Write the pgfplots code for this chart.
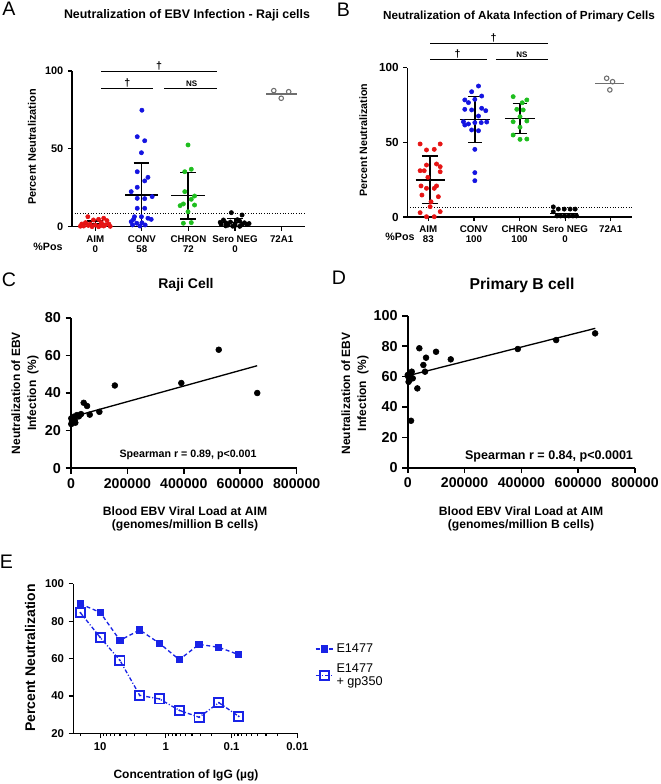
\documentclass[border=0pt]{standalone}
\usepackage{pgfplots}
\pgfplotsset{compat=1.18}
\usepackage{fontspec}
\setmainfont{Liberation Sans}
\definecolor{pred}{RGB}{230,20,20}
\definecolor{pblue}{RGB}{20,20,225}
\definecolor{pgreen}{RGB}{30,190,30}
\definecolor{pgray}{RGB}{110,110,110}
\definecolor{eblue}{RGB}{25,35,230}
\newcommand{\fs}[2][]{\fontsize{#2}{#2}\selectfont}
\pgfplotsset{
 base/.style={scale only axis, clip=false, axis x line*=bottom, axis y line*=left,
   tick align=outside, major tick length=3pt, tick style={black, line width=0.9pt},
   axis line style={line width=1pt},
   /pgf/number format/assume math mode=true,
   yticklabel style={font=\bfseries\fs{8.2}},
   xticklabel style={font=\bfseries\fontsize{7.3}{7.6}\selectfont, align=center}},
 scat/.style={only marks, mark=*, mark size=1.6pt},
 opn/.style={only marks, mark=o, mark size=1.7pt, pgray, mark options={line width=0.8pt, fill=white}},
 stat/.style={black, line width=1.1pt, no marks},
 sig/.style={black, line width=1.1pt, no marks},
 dots/.style={black, line width=0.6pt, dash pattern=on 0.8pt off 1.2pt, no marks},
 big/.style={scale only axis, clip=false, axis x line*=bottom, axis y line*=left,
   tick align=outside, major tick length=4pt, tick style={black, line width=1.2pt},
   axis line style={line width=1.5pt},
   /pgf/number format/assume math mode=true,
   yticklabel style={font=\bfseries\fs{10.8}},
   xticklabel style={font=\bfseries\fs{10.6}},
   xmin=0, xmax=800000, xtick={0,200000,400000,600000,800000},
   xticklabels={0,200000,400000,600000,800000}, scaled x ticks=false},
}
\begin{document}
\begin{tikzpicture}
\path[use as bounding box] (0,0) rectangle (495pt,-588pt);
% ---------------- Panel A ----------------
\begin{axis}[base, at={(54pt,-170pt)}, anchor=south west, width=174.75pt, height=116.75pt,
  xmin=-0.5, xmax=4.5, ymin=0, ymax=100, ytick={0,50,100}, xtick={0,1,2,3,4},
  xticklabels={{AIM\\0},{CONV\\58},{CHRON\\72},{Sero NEG\\0},{72A1}}]
\addplot[dots] coordinates {(-0.5,8.6) (4.5,8.6)};
\addplot[scat, pred] coordinates {(-0.16,6.4) (-0.04,4.3) (0.07,4.7) (0.18,5.4) (0.25,3.9) (-0.29,1.7) (-0.21,2.6) (-0.11,1.7) (0,1.1) (0.13,2.6) (0.21,1.1) (0.29,1.7) (-0.25,0.4) (-0.07,0) (0.07,0) (0.18,0.4) (-0.15,0.8) (0.1,0.5) (0.32,0.2) (-0.32,0.3)};
\addplot[scat, pblue] coordinates {(1.0,74.8) (0.90,57.8) (1.06,55.2) (0.99,47.5) (0.90,35.3) (1.13,31.7) (1.06,29.4) (0.90,25.3) (0.77,22.5) (0.90,18.2) (1.06,18.0) (1.22,19.3) (0.90,11.8) (1.06,11.8) (0.84,6.4) (0.99,6.4) (1.13,5.4) (0.82,4.7) (1.20,4.7) (0.77,3.2) (0.89,2.2) (1.0,2.5) (0.80,1.1) (0.96,0.4) (1.07,1.1)};
\addplot[scat, pgreen] coordinates {(1.99,52.5) (1.92,35.3) (2.06,36.9) (1.92,22.5) (2.13,19.7) (2.06,17.6) (1.89,14.6) (1.82,13.5) (2.13,13.9) (1.99,9.6) (1.89,2.2) (2.06,2.6)};
\addplot[scat, black] coordinates {(2.92,9.0) (3.15,7.5) (2.75,4.3) (2.8,2.5) (2.9,3) (3.0,2) (3.1,3.5) (3.2,2.5) (2.7,1.5) (2.85,1) (3.0,0.8) (3.15,1.2) (3.25,1.5) (2.95,0.3) (3.05,4.5) (2.8,0.5) (3.1,0.2) (3.3,2) (2.68,2.8)};
\addplot[opn] coordinates {(3.83,87.4) (3.99,82.5) (4.15,86.7)};
% mean / SD
\addplot[stat] coordinates {(-0.3,1.8) (0.3,1.8)};
\addplot[stat] coordinates {(0,0) (0,3.6)};
\addplot[stat] coordinates {(-0.17,3.6) (0.17,3.6)};
\addplot[stat] coordinates {(0.64,20.3) (1.34,20.3)};
\addplot[stat] coordinates {(0.99,0) (0.99,40.9)};
\addplot[stat] coordinates {(0.82,40.9) (1.16,40.9)};
\addplot[stat] coordinates {(1.63,19.9) (2.35,19.9)};
\addplot[stat] coordinates {(1.99,4.9) (1.99,34.7)};
\addplot[stat] coordinates {(1.82,34.7) (2.16,34.7)};
\addplot[stat] coordinates {(1.82,4.9) (2.16,4.9)};
\addplot[stat] coordinates {(2.65,2.8) (3.35,2.8)};
\addplot[stat] coordinates {(3,0) (3,5.4)};
\addplot[stat] coordinates {(2.83,5.4) (3.17,5.4)};
\addplot[stat, pgray, line width=0.9pt] coordinates {(3.67,85.2) (4.33,85.2)};
% significance
\addplot[sig] coordinates {(0.13,99.6) (2.61,99.6)};
\addplot[sig] coordinates {(0.13,88.9) (1.24,88.9)};
\addplot[sig] coordinates {(1.48,88.9) (2.61,88.9)};
\node[anchor=south, inner sep=0.8pt, font=\bfseries\fs{8}] at (axis cs:1.37,99.6) {†};
\node[anchor=south, inner sep=0.8pt, font=\bfseries\fs{8}] at (axis cs:0.69,88.9) {†};
\node[anchor=south, inner sep=1.2pt, font=\bfseries\fs{6}] at (axis cs:2.07,88.9) {NS};
\end{axis}
% ---------------- Panel B ----------------
\begin{axis}[base, at={(305.5pt,-162.75pt)}, anchor=south west, width=168.3pt, height=112pt,
  xmin=-0.46, xmax=4.46, ymin=0, ymax=100, ytick={0,50,100}, xtick={0,1,2,3,4},
  yticklabel style={font=\bfseries\fs{8.8}},
  xticklabels={{AIM\\83},{CONV\\100},{CHRON\\100},{Sero NEG\\0},{72A1}}]
\addplot[dots] coordinates {(-0.46,6.3) (4.46,6.3)};
\addplot[scat, pred] coordinates {(-0.18,48.9) (0.26,48.9) (-0.04,44.9) (0.13,45.3) (-0.18,31.0) (-0.09,31.0) (-0.04,34.8) (0.18,35.5) (0.26,33.7) (0.26,30.3) (-0.01,26.6) (-0.16,20.8) (0.18,20.8) (-0.04,19.2) (0.13,19.2) (-0.14,14.7) (0.22,13.6) (0.06,10.2) (-0.18,2.9) (0.26,3.6) (-0.04,0.2) (0.13,0.2) (0.04,6.9)};
\addplot[scat, pblue] coordinates {(1.10,87.7) (0.95,83.9) (0.80,78.4) (1.17,81.0) (0.88,76.6) (1.02,78.8) (0.80,72.1) (0.95,71.7) (1.17,72.8) (1.26,71.2) (1.10,67.6) (0.77,63.8) (0.88,62.3) (1.02,63.2) (1.16,63.2) (1.28,63.6) (0.80,61.6) (0.95,58.3) (1.10,57.8) (1.02,45.3) (1.02,29.7) (1.02,24.3)};
\addplot[scat, pgreen] coordinates {(1.86,80.6) (2.16,78.4) (2.06,76.5) (1.94,72.1) (2.08,71.7) (2.01,67.2) (1.86,63.8) (2.16,64.3) (2.01,60.1) (1.86,54.9) (2.01,52.0) (2.16,52.2)};
\addplot[scat, black] coordinates {(2.74,6.8) (2.85,5.3) (2.98,5.3) (3.11,5.3) (3.22,5.3) (2.74,3.5) (2.82,0.7) (2.90,0.7) (2.99,0.7) (3.08,0.7) (3.17,0.7) (3.25,0.7)};
\addplot[opn] coordinates {(3.91,92.9) (4.04,90.6) (3.98,85.1)};
\addplot[stat] coordinates {(-0.28,24.8) (0.36,24.8)};
\addplot[stat] coordinates {(0.04,8.9) (0.04,40.8)};
\addplot[stat] coordinates {(-0.14,40.8) (0.22,40.8)};
\addplot[stat] coordinates {(-0.14,8.9) (0.22,8.9)};
\addplot[stat] coordinates {(0.69,65.4) (1.35,65.4)};
\addplot[stat] coordinates {(1.02,49.8) (1.02,80.6)};
\addplot[stat] coordinates {(0.87,80.6) (1.17,80.6)};
\addplot[stat] coordinates {(0.87,49.8) (1.17,49.8)};
\addplot[stat] coordinates {(1.68,66.1) (2.34,66.1)};
\addplot[stat] coordinates {(2.01,56.0) (2.01,76.1)};
\addplot[stat] coordinates {(1.85,76.1) (2.17,76.1)};
\addplot[stat] coordinates {(1.85,56.0) (2.17,56.0)};
\addplot[stat] coordinates {(2.67,2.5) (3.29,2.5)};
\addplot[stat, pgray, line width=0.9pt] coordinates {(3.66,89.5) (4.30,89.5)};
\addplot[sig] coordinates {(0.04,116.3) (2.63,116.3)};
\addplot[sig] coordinates {(0.04,105.6) (1.28,105.6)};
\addplot[sig] coordinates {(1.48,105.6) (2.63,105.6)};
\node[anchor=south, inner sep=0.8pt, font=\bfseries\fs{8}] at (axis cs:1.43,116.3) {†};
\node[anchor=south, inner sep=0.8pt, font=\bfseries\fs{8}] at (axis cs:0.64,105.6) {†};
\node[anchor=south, inner sep=1.2pt, font=\bfseries\fs{6}] at (axis cs:2.05,105.6) {NS};
\end{axis}
% ---------------- Panel C ----------------
\begin{axis}[big, at={(53.25pt,-351.2pt)}, anchor=south west, width=169.25pt, height=112.9pt,
  ymin=0, ymax=80, ytick={0,20,40,60,80}]
\addplot[only marks, mark=*, mark size=2.2pt, black] coordinates {(1000,26.5) (3600,24.7) (1000,23.5) (9600,27.4) (13100,25.6) (15300,24.2) (5000,25.0) (8000,26.2) (21300,28.3) (28000,27.6) (35500,28.8) (45000,34.8) (56900,33.1) (66500,28.5) (100600,30.0) (155400,44.0) (391100,45.3) (523800,63.0) (660300,40.0)};
\addplot[black, line width=1pt, no marks] coordinates {(0,27.1) (660000,54.5)};
\end{axis}
% ---------------- Panel D ----------------
\begin{axis}[big, at={(305.8pt,-350.8pt)}, anchor=south west, width=170.5pt, height=114pt,
  ymin=0, ymax=100, ytick={0,20,40,60,80,100}]
\addplot[only marks, mark=*, mark size=2.2pt, black] coordinates {(0,61) (2100,59.9) (5600,57.7) (3000,56.5) (8000,60.5) (10000,62) (14100,63.2) (17600,58.8) (11600,30.9) (33800,52.2) (40800,78.6) (55000,67.6) (60900,63.2) (64400,72.4) (99600,76.3) (151400,71.3) (387300,78.1) (522200,84.0) (659500,88.4)};
\addplot[black, line width=1pt, no marks] coordinates {(0,60.5) (660000,91.7)};
\end{axis}
% ---------------- Panel E ----------------
\begin{axis}[scale only axis, clip=false, axis x line*=bottom, axis y line*=left,
  at={(55pt,-550pt)}, anchor=south west, width=168pt, height=112.2pt,
  xmode=log, x dir=reverse, xmin=0.01, xmax=25.6, ymin=20, ymax=100,
  ytick={20,40,60,80,100}, xtick={10,1,0.1,0.01}, xticklabels={10,1,0.1,0.01},
  minor xtick={20,9,8,7,6,5,4,3,2,0.9,0.8,0.7,0.6,0.5,0.4,0.3,0.2,0.09,0.08,0.07,0.06,0.05,0.04,0.03,0.02},
  tick align=outside, major tick length=3.5pt, minor tick length=2pt,
  tick style={black, line width=0.9pt}, axis line style={line width=1pt},
  /pgf/number format/assume math mode=true,
  yticklabel style={font=\bfseries\fs{8.5}}, xticklabel style={font=\bfseries\fs{8.5}},
  legend style={at={(1.06,0.637)}, anchor=north west, draw=none, fill=none, font=\fs{9.5},
    row sep=3pt, nodes={align=left}},
  legend cell align=left,
  legend image code/.code={\draw[mark repeat=2, mark phase=2] plot coordinates {(0cm,0cm) (0.23cm,0cm) (0.46cm,0cm)};}]
\addplot[eblue, line width=1pt, dash pattern=on 3pt off 2pt, mark=square*, mark size=2.2pt, mark options={solid}]
  coordinates {(20,89.2) (10,84.7) (5,69.7) (2.5,75.3) (1.25,68.1) (0.625,59.4) (0.3125,67.6) (0.15625,66.0) (0.078,62.1)};
\addlegendentry{E1477}
\addplot[eblue, line width=1pt, dash pattern=on 3pt off 1.5pt on 0.8pt off 1.5pt, mark=square, mark size=3.4pt, mark options={solid, fill=white, line width=1.4pt}]
  coordinates {(20,84.5) (10,71.3) (5,59.0) (2.5,40.3) (1.25,38.4) (0.625,32.3) (0.3125,28.6) (0.15625,36.4) (0.078,29.1)};
\addlegendentry{E1477\\+ gp350}
\addplot[eblue, only marks, mark=*, mark size=0.5pt, forget plot]
  coordinates {(20,84.5) (10,71.3) (5,59.0) (2.5,40.3) (1.25,38.4) (0.625,32.3) (0.3125,28.6) (0.15625,36.4) (0.078,29.1)};
\end{axis}
% ---------------- texts ----------------
\node[font=\fs{14.7}] at (6.75pt,-6.75pt) {A};
\node[font=\fs{14.7}] at (257.5pt,-7.5pt) {B};
\node[font=\fs{14.7}] at (6.75pt,-210pt) {C};
\node[font=\fs{14.7}] at (254.25pt,-208.5pt) {D};
\node[font=\fs{14.7}] at (4.9pt,-421pt) {E};
\node[font=\bfseries\fs{9.3}] at (140.25pt,-11.25pt) {Neutralization of EBV Infection - Raji cells};
\node[font=\bfseries\fs{8.8}] at (389.25pt,-12.5pt) {Neutralization of Akata Infection of Primary Cells};
\node[font=\bfseries\fs{8.2}, rotate=90] at (24pt,-110.25pt) {Percent Neutralization};
\node[font=\bfseries\fs{8}, rotate=90] at (272.5pt,-105pt) {Percent Neutralization};
\node[font=\bfseries\fs{8}] at (36pt,-185.5pt) {\%Pos};
\node[font=\bfseries\fs{8}] at (300pt,-177.75pt) {\%Pos};
\node[font=\bfseries\fs{10.5}] at (139.5pt,-213.75pt) {Raji Cell};
\node[font=\bfseries\fs{11.8}] at (391.5pt,-213.75pt) {Primary B cell};
\node[font=\bfseries\fontsize{9}{12}\selectfont, rotate=90, align=center] at (18.75pt,-294.75pt) {Neutralization of EBV\\Infection\ \ (\%)};
\node[font=\bfseries\fontsize{9}{12}\selectfont, rotate=90, align=center] at (266.25pt,-295pt) {Neutralization of EBV\\Infection\ \ (\%)};
\node[font=\bfseries\fontsize{9.1}{9.9}\selectfont, align=center] at (138.75pt,-388.9pt) {Blood EBV Viral Load at AIM\\(genomes/million B cells)};
\node[font=\bfseries\fontsize{9.1}{9.9}\selectfont, align=center] at (390.75pt,-388.9pt) {Blood EBV Viral Load at AIM\\(genomes/million B cells)};
\node[font=\bfseries\fs{8}] at (141pt,-341.25pt) {Spearman r = 0.89, p<0.001};
\node[font=\bfseries\fs{9.4}] at (411.75pt,-342.5pt) {Spearman r = 0.84, p<0.0001};
\node[font=\bfseries\fs{10.5}, rotate=90] at (22.5pt,-493.5pt) {Percent Neutralization};
\node[font=\bfseries\fs{9}] at (139.5pt,-581.25pt) {Concentration of IgG (µg)};
\end{tikzpicture}
\end{document}
